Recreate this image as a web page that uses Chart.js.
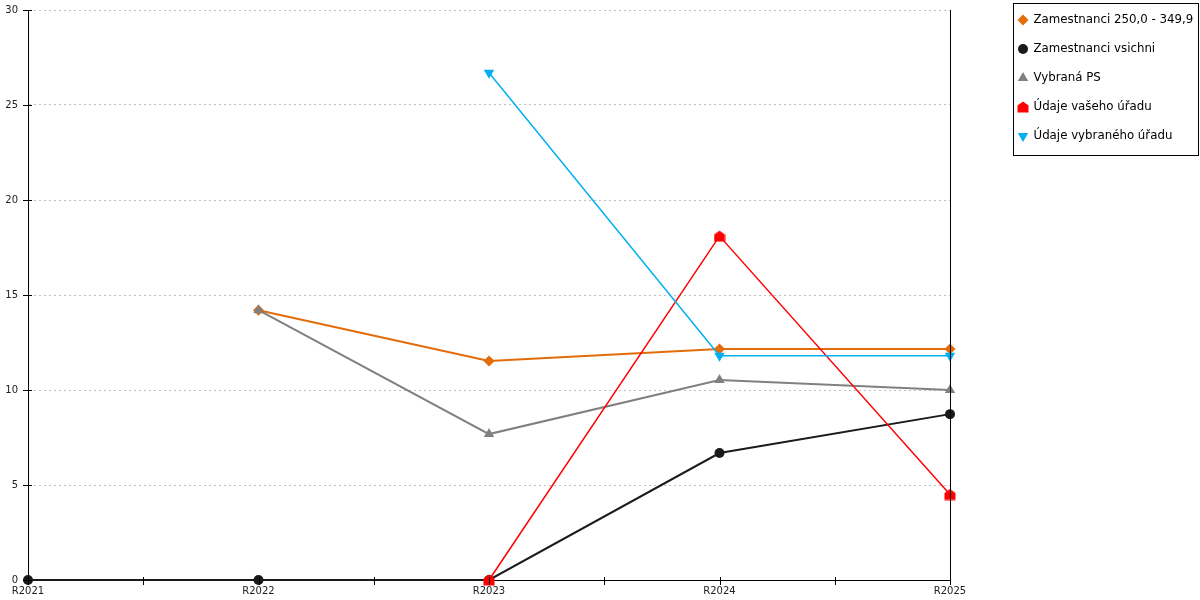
<!DOCTYPE html>
<html><head><meta charset="utf-8">
<script src="https://cdn.jsdelivr.net/npm/chart.js@4.4.0/dist/chart.umd.min.js"></script>
<style>html,body{margin:0;padding:0;background:#fff}#wrap{width:1200px;height:600px;position:relative}</style>
</head><body><div id="wrap"><canvas id="c" width="1200" height="600"></canvas></div>
<script>
const categories = ['R2021', 'R2022', 'R2023', 'R2024', 'R2025'];
const zamestnanci250 = [null, 14.2, 11.53, 12.16, 12.16];
const zamestnanciVsichni = [0, 0, 0, 6.68, 8.73];
const vybranaPS = [null, 14.2, 7.68, 10.53, 10.0];
const udajeVasehoUradu = [null, null, 0, 18.1, 4.5];
const udajeVybranehoUradu = [null, null, 26.7, 11.8, 11.8];
const yTickValues = [0, 5, 10, 15, 20, 25, 30];
const seriesLabels = ['Zamestnanci 250,0 - 349,9', 'Zamestnanci vsichni', 'Vybraná PS', 'Údaje vašeho úřadu', 'Údaje vybraného úřadu'];

const FONT = 'DejaVu Sans';

function houseImg(color) {
  const c = document.createElement('canvas');
  c.width = 12; c.height = 12;
  const g = c.getContext('2d');
  g.fillStyle = color;
  g.beginPath();
  g.moveTo(6, 0.5); g.lineTo(11.5, 4.5); g.lineTo(11.5, 11.5); g.lineTo(0.5, 11.5); g.lineTo(0.5, 4.5);
  g.closePath(); g.fill();
  return c;
}
const house = houseImg('#ff0000');

function pts(arr) { return arr.map((v, i) => ({ x: i, y: v })); }

const styles = [
  { color: '#e36c0a', pointStyle: 'rectRot', radius: 5.5, rotation: 0, width: 2 },
  { color: '#1a1a1a', pointStyle: 'circle', radius: 5, rotation: 0, width: 2 },
  { color: '#808080', pointStyle: 'triangle', radius: 6, rotation: 0, width: 2 },
  { color: '#ff0000', pointStyle: house, radius: 6, rotation: 0, width: 1.5 },
  { color: '#00b0f0', pointStyle: 'triangle', radius: 6, rotation: 180, width: 1.5 }
];
const seriesData = [zamestnanci250, zamestnanciVsichni, vybranaPS, udajeVasehoUradu, udajeVybranehoUradu];

const datasets = seriesData.map((arr, i) => ({
  label: seriesLabels[i],
  data: pts(arr),
  borderColor: styles[i].color,
  backgroundColor: styles[i].color,
  borderWidth: styles[i].width,
  pointStyle: styles[i].pointStyle,
  pointRadius: styles[i].radius,
  pointHoverRadius: styles[i].radius,
  pointRotation: styles[i].rotation,
  pointBorderWidth: 0,
  tension: 0,
  clip: false,
  order: seriesData.length - i
}));

function drawMarker(ctx, st, x, y) {
  ctx.save();
  ctx.fillStyle = st.color;
  if (st.pointStyle instanceof HTMLCanvasElement) {
    ctx.drawImage(st.pointStyle, x - st.pointStyle.width / 2, y - st.pointStyle.height / 2);
    ctx.restore(); return;
  }
  const r = st.radius;
  ctx.beginPath();
  if (st.pointStyle === 'circle') {
    ctx.arc(x, y, r, 0, Math.PI * 2);
  } else if (st.pointStyle === 'rectRot') {
    ctx.moveTo(x - r, y); ctx.lineTo(x, y - r); ctx.lineTo(x + r, y); ctx.lineTo(x, y + r);
  } else if (st.pointStyle === 'triangle') {
    let rad = st.rotation * Math.PI / 180;
    for (let k = 0; k < 3; k++) {
      const px = x + Math.sin(rad) * r, py = y - Math.cos(rad) * r;
      if (k === 0) ctx.moveTo(px, py); else ctx.lineTo(px, py);
      rad += 2 * Math.PI / 3;
    }
  }
  ctx.closePath(); ctx.fill();
  ctx.restore();
}

const decorPlugin = {
  id: 'decor',
  afterDraw(chart) {
    const ctx = chart.ctx, a = chart.chartArea;
    const xs = chart.scales.x, ys = chart.scales.y;
    ctx.save();
    ctx.strokeStyle = '#000'; ctx.lineWidth = 1;
    ctx.beginPath(); ctx.moveTo(Math.round(a.right) + 0.5, a.top); ctx.lineTo(Math.round(a.right) + 0.5, a.bottom); ctx.stroke();
    xs.ticks.forEach(t => {
      const px = Math.round(xs.getPixelForValue(t.value)) + 0.5;
      ctx.beginPath(); ctx.moveTo(px, a.bottom - 3); ctx.lineTo(px, a.bottom + 5); ctx.stroke();
    });
    ys.ticks.forEach(t => {
      const py = Math.round(ys.getPixelForValue(t.value)) + 0.5;
      ctx.beginPath(); ctx.moveTo(a.left - 5, py); ctx.lineTo(a.left + 4, py); ctx.stroke();
    });
    const bx = Math.round(a.right) + 63.5, by = 3.5, bw = 185, bh = 152;
    ctx.strokeRect(bx, by, bw, bh);
    ctx.font = '11.8px "' + FONT + '"';
    ctx.textBaseline = 'middle';
    ctx.textAlign = 'left';
    seriesLabels.forEach((lab, i) => {
      const cy = 20 + i * 29;
      drawMarker(ctx, styles[i], bx + 9.5, cy);
      ctx.fillStyle = '#000';
      ctx.fillText(lab, bx + 20, cy);
    });
    ctx.restore();
  }
};

new Chart(document.getElementById('c'), {
  type: 'line',
  data: { datasets },
  options: {
    responsive: false,
    animation: false,
    devicePixelRatio: 1,
    layout: { padding: { top: 10, right: 250, left: 0, bottom: 0 } },
    plugins: { legend: { display: false }, tooltip: { enabled: false } },
    scales: {
      x: {
        type: 'linear', min: 0, max: categories.length - 1,
        afterBuildTicks: s => {
          const t = [];
          categories.forEach((c, i) => { t.push({ value: i }); if (i < categories.length - 1) t.push({ value: i + 0.5 }); });
          s.ticks = t;
        },
        afterFit: s => { s.height = 20; s.paddingLeft = 0; s.paddingRight = 0; },
        ticks: {
          autoSkip: false, maxRotation: 0, padding: 5,
          font: { family: FONT, size: 10 }, color: '#222',
          callback: v => Number.isInteger(v) ? categories[v] : ''
        },
        grid: { drawOnChartArea: false, drawTicks: false },
        border: { color: '#000', width: 1 }
      },
      y: {
        min: yTickValues[0], max: yTickValues[yTickValues.length - 1],
        afterBuildTicks: s => { s.ticks = yTickValues.map(v => ({ value: v })); },
        afterFit: s => { s.width = 28; s.paddingTop = 0; s.paddingBottom = 0; },
        ticks: { padding: 10, font: { family: FONT, size: 10 }, color: '#222' },
        grid: { color: '#c0c0c0', lineWidth: 1, drawTicks: false },
        border: { color: '#000', width: 1, dash: [2, 3] }
      }
    }
  },
  plugins: [decorPlugin]
});
</script>
</body></html>
